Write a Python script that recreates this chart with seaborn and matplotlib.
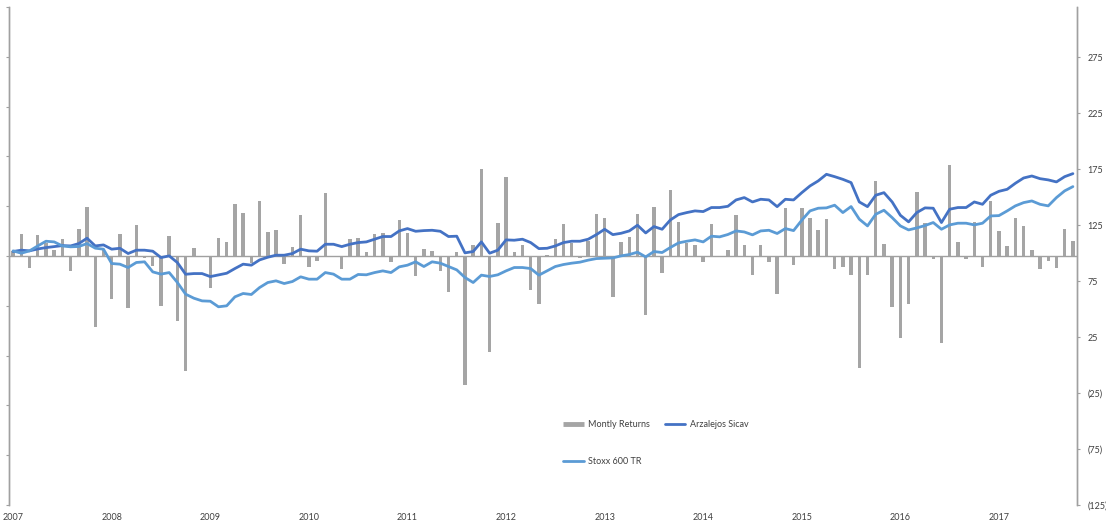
import numpy as np
import pandas as pd
import matplotlib
matplotlib.use("Agg")
import matplotlib.pyplot as plt
from matplotlib.lines import Line2D
import seaborn as sns

# monthly data, Jan 2007 .. Oct 2017
monthly_returns = [
    0.5, 2.2, -1.2, 2.1, 1.3, 0.6, 1.7, -1.5, 2.7, 4.9, -7.1, 0.7,
    -4.3, 2.2, -5.2, 3.1, -0.2, -1.0, -5.0, 2.0, -6.5, -11.5, 0.8, -0.1,
    -3.2, 1.8, 1.4, 5.2, 4.3, -0.7, 5.5, 2.4, 2.6, -0.8, 0.9, 4.1,
    -1.1, -0.5, 6.3, -0.1, -1.3, 1.7, 1.8, 0.4, 2.2, 2.3, -0.6, 3.6,
    2.3, -2.0, 0.7, 0.5, -1.5, -3.6, 0.4, -13.0, 1.1, 8.7, -9.6, 3.3,
    7.9, 0.4, 1.1, -3.4, -4.8, 0.1, 1.7, 3.2, 1.3, -0.2, 1.5, 4.2,
    3.8, -4.1, 1.4, 1.9, 4.2, -5.9, 4.9, -1.7, 6.6, 3.4, 1.3, 1.1,
    -0.6, 3.2, 0.0, 0.6, 4.1, 1.1, -1.9, 1.1, -0.6, -3.8, 4.8, -0.9,
    4.8, 3.8, 2.6, 3.7, -1.3, -1.1, -1.9, -11.2, -1.9, 7.5, 1.2, -5.1,
    -8.2, -4.8, 6.4, 3.3, -0.3, -8.7, 9.1, 1.4, -0.3, 3.4, -1.1, 5.5,
    2.5, 1.0, 3.8, 3.0, 0.6, -1.3, -0.5, -1.2, 2.7, 1.5,
]

arzalejos = [
    101.5, 102.7, 102.1, 103.8, 105.0, 105.9, 106.8, 106.5, 108.6, 113.4, 106.5, 107.4,
    103.6, 104.4, 99.7, 102.7, 102.7, 101.8, 96.1, 97.6, 91.6, 81.2, 81.8, 81.8,
    79.1, 80.6, 82.1, 86.3, 90.2, 89.3, 94.0, 96.4, 98.2, 98.2, 99.7, 103.6,
    102.1, 101.8, 108.0, 108.0, 105.9, 108.0, 109.5, 110.1, 112.5, 114.9, 114.9, 119.9,
    122.0, 119.6, 120.2, 120.5, 119.6, 114.9, 115.2, 100.3, 101.5, 110.1, 100.0, 102.7,
    111.9, 111.6, 112.5, 109.5, 104.1, 104.4, 106.5, 109.5, 110.7, 110.7, 112.5, 116.6,
    121.4, 116.6, 117.8, 119.9, 125.0, 118.1, 123.8, 121.4, 129.7, 134.5, 136.3, 137.8,
    137.2, 140.8, 140.8, 141.9, 147.6, 149.7, 145.8, 148.2, 147.6, 141.6, 148.2, 147.6,
    154.1, 160.1, 164.6, 170.5, 168.4, 166.0, 163.1, 145.8, 141.6, 151.8, 154.1, 145.8,
    133.9, 128.0, 136.3, 140.5, 140.2, 127.4, 139.3, 140.8, 140.8, 145.8, 143.7, 151.8,
    155.3, 157.1, 162.5, 167.2, 169.0, 166.6, 165.5, 163.7, 168.4, 171.1,
]

stoxx = [
    102.1, 100.0, 102.1, 106.5, 110.7, 110.1, 106.5, 105.7, 106.0, 108.6, 104.5, 103.6,
    90.8, 90.2, 87.2, 91.7, 92.3, 83.3, 81.3, 82.7, 73.8, 63.4, 59.8, 57.4,
    57.1, 52.1, 53.0, 61.0, 64.0, 63.1, 69.3, 73.8, 75.3, 72.9, 74.7, 78.9,
    76.8, 76.8, 82.7, 81.3, 76.8, 76.8, 81.0, 80.7, 82.7, 84.2, 82.7, 87.8,
    89.3, 92.3, 88.1, 92.3, 91.1, 88.1, 85.1, 78.3, 73.8, 80.4, 79.2, 80.7,
    84.2, 87.2, 87.2, 86.3, 80.4, 84.2, 88.1, 89.9, 91.1, 92.0, 93.8, 95.2,
    95.5, 95.8, 97.6, 98.8, 100.9, 96.7, 101.5, 100.6, 105.1, 109.2, 110.7, 111.9,
    110.1, 115.2, 114.6, 116.7, 119.9, 119.0, 116.4, 119.9, 120.5, 117.6, 122.0, 120.2,
    129.5, 137.8, 140.2, 140.5, 142.9, 136.3, 141.7, 130.4, 124.4, 134.8, 138.4, 131.8,
    124.4, 120.8, 122.6, 124.7, 127.4, 121.4, 125.3, 126.8, 126.8, 125.3, 126.8, 133.3,
    133.6, 137.8, 142.3, 145.2, 146.7, 143.7, 142.3, 149.7, 155.7, 159.5,
]

years = ["2007", "2008", "2009", "2010", "2011", "2012",
         "2013", "2014", "2015", "2016", "2017"]
right_ticks = [-125, -75, -25, 25, 75, 125, 175, 225, 275]
right_labels = ["(125)", "(75)", "(25)", "25", "75", "125", "175", "225", "275"]

df = pd.DataFrame({
    "month": np.arange(len(monthly_returns)),
    "returns": monthly_returns,
    "arzalejos": arzalejos,
    "stoxx": stoxx,
})

sns.set_style("white")
plt.rcParams["font.family"] = ["Lato", "DejaVu Sans"]

bar_color = "#A5A5A5"
dark_blue = "#4472C4"
light_blue = "#5B9BD5"
axis_gray = "#A0A0A0"
text_gray = "#404040"

fig = plt.figure(figsize=(11.06, 5.24), dpi=100)
ax = fig.add_axes([9 / 1106, 1 - 505 / 524, 1068 / 1106, 498 / 524])

# bars on the (unlabelled) left axis
sns.barplot(data=df, x="month", y="returns", ax=ax, color=bar_color,
            saturation=1, width=0.42, linewidth=0)
ax.set_ylim(-25, 25)
ax.set_yticks(np.arange(-25, 26, 5))
ax.set_yticklabels([])
ax.axhline(0, color=axis_gray, lw=1, zorder=3)
ax.set_xlim(-0.5, len(df) - 0.5)
ax.set_xticks(np.arange(0, len(df), 12))
ax.set_xticklabels(years)
ax.set_xlabel("")
ax.set_ylabel("")
ax.tick_params(axis="x", length=0, pad=6, labelsize=6.5, labelcolor=text_gray)
ax.tick_params(axis="y", direction="out", length=2.5, width=0.8, color=axis_gray)

# index lines on the right axis
ax2 = ax.twinx()
sns.lineplot(data=df, x="month", y="arzalejos", ax=ax2, color=dark_blue, lw=2)
sns.lineplot(data=df, x="month", y="stoxx", ax=ax2, color=light_blue, lw=2)
ax2.set_ylim(-125, 320)
ax2.set_yticks(right_ticks)
ax2.set_yticklabels(right_labels)
ax2.set_ylabel("")
ax2.set_xlabel("")
ax2.tick_params(axis="y", direction="out", length=2.5, width=0.8, color=axis_gray,
                pad=5, labelsize=6.5, labelcolor=text_gray)

for a in (ax, ax2):
    a.spines["top"].set_visible(False)
    a.spines["bottom"].set_visible(False)
    a.spines["left"].set_color(axis_gray)
    a.spines["right"].set_color(axis_gray)
    a.spines["left"].set_linewidth(1)
    a.spines["right"].set_linewidth(1)
    a.grid(False)

handles = [
    Line2D([], [], color=bar_color, lw=3.5, solid_capstyle="butt"),
    Line2D([], [], color=light_blue, lw=2),
    Line2D([], [], color=dark_blue, lw=2),
]
labels = ["Montly Returns", "Stoxx 600 TR", "Arzalejos Sicav"]
fig.legend(handles, labels, ncol=2, loc="upper left",
           bbox_to_anchor=(563 / 1106, 1 - 420 / 524), frameon=False,
           fontsize=6.5, labelcolor=text_gray, handlelength=2.3,
           handletextpad=0.5, columnspacing=1.6, labelspacing=3.1,
           borderpad=0, borderaxespad=0)

fig.savefig("out.png", dpi=100)
